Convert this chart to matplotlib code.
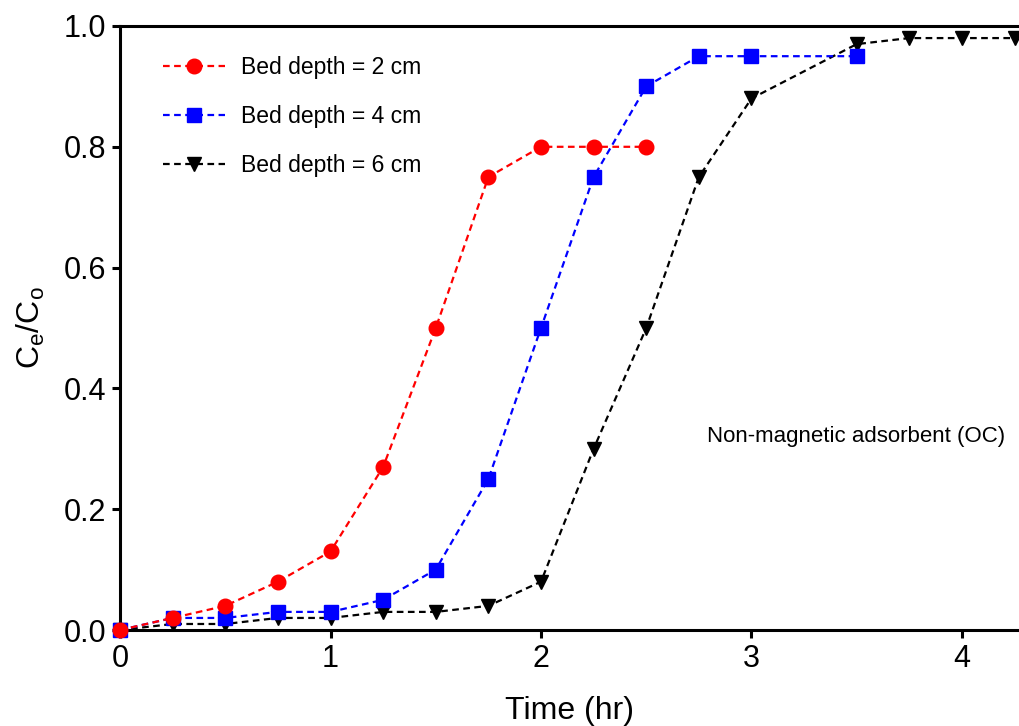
import matplotlib.pyplot as plt

plt.rcParams['font.family'] = ['Liberation Sans', 'DejaVu Sans']

# data
t_2cm = [0, 0.25, 0.5, 0.75, 1.0, 1.25, 1.5, 1.75, 2.0, 2.25, 2.5]
c_2cm = [0, 0.02, 0.04, 0.08, 0.13, 0.27, 0.50, 0.75, 0.80, 0.80, 0.80]

t_4cm = [0, 0.25, 0.5, 0.75, 1.0, 1.25, 1.5, 1.75, 2.0, 2.25, 2.5, 2.75, 3.0, 3.5]
c_4cm = [0, 0.02, 0.02, 0.03, 0.03, 0.05, 0.10, 0.25, 0.50, 0.75, 0.90, 0.95, 0.95, 0.95]

t_6cm = [0, 0.25, 0.5, 0.75, 1.0, 1.25, 1.5, 1.75, 2.0, 2.25, 2.5, 2.75, 3.0, 3.5, 3.75, 4.0, 4.25]
c_6cm = [0, 0.01, 0.01, 0.02, 0.02, 0.03, 0.03, 0.04, 0.08, 0.30, 0.50, 0.75, 0.88, 0.97, 0.98, 0.98, 0.98]

labels = ['Bed depth = 2 cm', 'Bed depth = 4 cm', 'Bed depth = 6 cm']

fig = plt.figure(figsize=(10.19, 7.26), dpi=100)
ax = fig.add_axes([0.1178, 0.1322, 0.8822, 0.832])

dash = (0, (3, 2))
l1, = ax.plot(t_2cm, c_2cm, color='#ff0000', ls=dash, lw=1.6, marker='o',
              ms=10.5, zorder=5, clip_on=False)
l2, = ax.plot(t_4cm, c_4cm, color='#0000ff', ls=dash, lw=1.6, marker='s',
              ms=9.5, zorder=4, clip_on=False)
l3, = ax.plot(t_6cm, c_6cm, color='black', ls=dash, lw=1.6, marker='v',
              ms=9.5, zorder=3, clip_on=False)

ax.set_xlim(0, 4.271)
ax.set_ylim(0, 1.0)
ax.set_xticks([0, 1, 2, 3, 4])
ax.set_yticks([0, 0.2, 0.4, 0.6, 0.8, 1.0])
ax.set_yticklabels(['0.0', '0.2', '0.4', '0.6', '0.8', '1.0'])

for s in ['left', 'bottom', 'top']:
    ax.spines[s].set_linewidth(2.2)
ax.spines['right'].set_visible(False)
ax.tick_params(width=2.2, length=6, labelsize=22, pad=4)

ax.set_xlabel('Time (hr)', fontsize=23, labelpad=16)
ax.set_ylabel(r'C$_\mathregular{e}$/C$_\mathregular{o}$', fontsize=23, labelpad=12)

ax.legend([l1, l2, l3], labels, loc='upper left', bbox_to_anchor=(0.025, 0.985),
          frameon=False, fontsize=16.5, handlelength=2.7, labelspacing=1.15,
          handletextpad=0.7)

ax.text(0.985, 0.32, 'Non-magnetic adsorbent (OC)', transform=ax.transAxes,
        ha='right', va='center', fontsize=16)

fig.savefig('out.png', dpi=100)
